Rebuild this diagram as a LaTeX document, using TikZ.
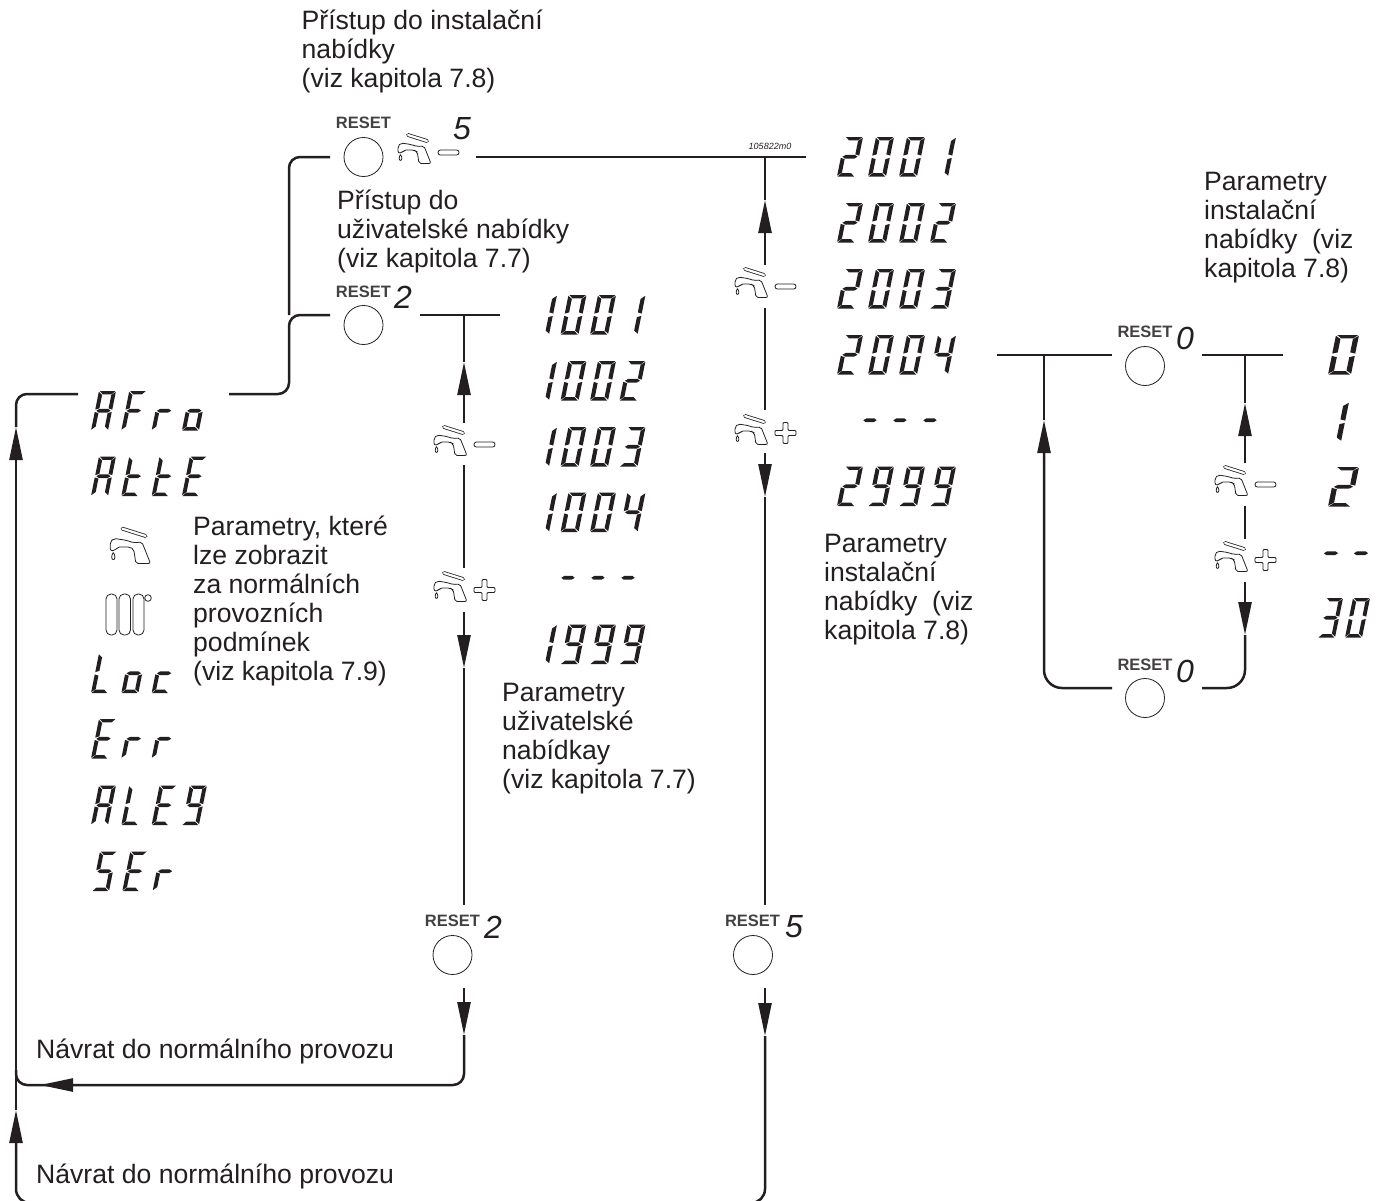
\documentclass[tikz,border=0pt]{standalone}
\usepackage{fontspec}
\setmainfont{Liberation Sans}
\usetikzlibrary{arrows.meta}

\definecolor{ink}{HTML}{231F20}

% segments of one display cell
\def\segA{a,b,c,e,f,g}
\def\segE{a,d,e,f,g}
\def\segF{a,e,f,g}
\def\segL{d,e,f}
\def\segS{a,c,d,f,g}
\def\segc{d,e,g}
\def\sego{c,d,e,g}
\def\segr{e,g}
\def\segt{d,e,f,g}
\csname @namedef\endcsname{seg0}{a,b,c,d,e,f}
\csname @namedef\endcsname{seg1}{b,c}
\csname @namedef\endcsname{seg2}{a,b,d,e,g}
\csname @namedef\endcsname{seg3}{a,b,c,d,g}
\csname @namedef\endcsname{seg4}{b,c,f,g}
\csname @namedef\endcsname{seg9}{a,b,c,d,f,g}
\csname @namedef\endcsname{seg-}{g}
\def\shapea{(.05,1)--(.97,1)--(.78,.915)--(.26,.915)}
\def\shapeb{(1,.98)--(1,.53)--(.77,.56)--(.77,.9)}
\def\shapec{(1,.47)--(1,.02)--(.77,.1)--(.77,.44)}
\def\shaped{(.03,0)--(.95,0)--(.74,.085)--(.22,.085)}
\def\shapee{(0,.47)--(0,.02)--(.23,.1)--(.23,.44)}
\def\shapef{(0,.98)--(0,.53)--(.23,.56)--(.23,.9)}
\def\shapeg{(.08,.5)--(.24,.545)--(.76,.545)--(.92,.5)--(.76,.455)--(.24,.455)}

% name, x, top, cell width, pitch, cells, text
\newcommand{\lcdrow}[7]{
  \foreach \ch [count=\idx from 0] in {#6} {
    \begin{scope}[shift={({#2+\idx*#5},{#3+39.5})},x={({(#4-8)*1pt},0pt)},y={(8pt,39.5pt)}]
      \edef\seglist{\csname seg\ch\endcsname}
      \foreach \sg in \seglist {
        \fill[ink] \csname shape\sg\endcsname -- cycle;
      }
    \end{scope}
  }
  \node[lcdtext] (#1) at (#2,{#3+20}) {#7};
}

\def\faucetpath{
  \draw[icon,double=white,double distance=2.2pt,line cap=round] (11,3) -- (30,9);
  \draw[icon,rounded corners=2pt] (1,21) -- (1,14) -- (4,11) -- (14,12.5) -- (20,14.5) -- (27,14)
    -- (34,31.5) -- (22,31.5) -- (20.3,20) -- (17,18) -- (7,18) -- (5,21) -- cycle;
  \draw[icon] (3.5,22.5) .. controls (1.7,25) and (1.9,28.4) .. (3.5,28.4) .. controls (5.2,28.4) and (5.4,25) .. (3.5,22.5);
}

\tikzset{
  icon/.style={draw=ink,line width=.8pt},
  flow/.style={draw=ink,line width=2.5pt},
  flowtip/.style={flow,-{Triangle[length=33pt,width=13pt]}},
  resetbtn/.style={circle,draw=ink,line width=.8pt,minimum size=39pt,inner sep=0pt},
  resetlbl/.style={inner sep=0pt,text=ink!85,font=\fontsize{16.5}{18}\selectfont\bfseries},
  digit/.style={inner sep=0pt,text=ink,font=\fontsize{32}{34}\selectfont\itshape},
  lbl/.style={anchor=north west,align=left,inner sep=0pt,text=ink,
    font=\fontsize{26.6}{29}\selectfont,execute at begin node=\strut},
  lcdtext/.style={anchor=west,inner sep=0pt,text opacity=0,font=\fontsize{40}{42}\selectfont\itshape},
  pics/faucet/.style={code={\faucetpath}},
  pics/tapminus/.style={code={
    \faucetpath
    \draw[icon,rounded corners=2.4pt] (41,18) rectangle (62,23);
  }},
  pics/tapplus/.style={code={
    \faucetpath
    \draw[icon,rounded corners=1pt] (41,17.5) -- (49,17.5) -- (49,9.5) -- (54,9.5) -- (54,17.5) -- (62,17.5)
      -- (62,22.5) -- (54,22.5) -- (54,30.5) -- (49,30.5) -- (49,22.5) -- (41,22.5) -- cycle;
  }},
  pics/radiator/.style={code={
    \draw[icon,rounded corners=5pt] (0,0) rectangle (11,41);
    \draw[icon,rounded corners=5pt] (13,0) rectangle (24.5,41);
    \draw[icon,rounded corners=5pt] (27,0) rectangle (38,41);
    \draw[icon] (42,4) circle (3.3);
  }}
}

\begin{document}
\begin{tikzpicture}[x=1pt,y=-1pt]
  \useasboundingbox (0,0) rectangle (1384,1200);

  % display rows
  \lcdrow{afro}{91}{391}{25}{30.3}{A,F,r,o}{AFro}
  \lcdrow{atte}{91}{456.5}{25}{30.3}{A,t,t,E}{AttE}
  \lcdrow{loc}{91}{653.5}{25}{30.3}{L,o,c}{Loc}
  \lcdrow{err}{91}{719}{25}{30.3}{E,r,r}{Err}
  \lcdrow{aleg}{91}{785.5}{25}{30.3}{A,L,E,9}{ALE9}
  \lcdrow{ser}{92}{851.5}{25}{30.3}{S,E,r}{SEr}

  \lcdrow{ua}{531}{295}{26}{29.5}{1,0,0,1}{1001}
  \lcdrow{ub}{531}{361}{26}{29.5}{1,0,0,2}{1002}
  \lcdrow{uc}{531}{427}{26}{29.5}{1,0,0,3}{1003}
  \lcdrow{ud}{531}{492.5}{26}{29.5}{1,0,0,4}{1004}
  \lcdrow{ue}{556}{558}{24}{30}{-,-,-}{---}
  \lcdrow{uf}{531}{624.5}{26}{29.5}{1,9,9,9}{1999}

  \lcdrow{ia}{837}{137}{26}{31}{2,0,0,1}{2001}
  \lcdrow{ib}{837}{203}{26}{31}{2,0,0,2}{2002}
  \lcdrow{ic}{837}{269}{26}{31}{2,0,0,3}{2003}
  \lcdrow{id}{837}{335}{26}{31}{2,0,0,4}{2004}
  \lcdrow{ie}{858}{400.5}{24}{30}{-,-,-}{---}
  \lcdrow{if}{837}{466.5}{26}{31}{2,9,9,9}{2999}

  \lcdrow{va}{1328}{335}{31}{0}{0}{0}
  \lcdrow{vb}{1319}{402}{30}{0}{1}{1}
  \lcdrow{vc}{1328}{467}{31}{0}{2}{2}
  \lcdrow{vd}{1318.5}{533.5}{25}{30}{-,-}{--}
  \lcdrow{ve}{1318}{598}{25}{27}{3,0}{30}

  % reset buttons
  \node[resetbtn] (btnI) at (363.5,157) {};
  \node[resetbtn] (btnU) at (363.5,325) {};
  \node[resetbtn] (btnUb) at (452.5,955) {};
  \node[resetbtn] (btnIb) at (753,955) {};
  \node[resetbtn] (btnP) at (1145,366) {};
  \node[resetbtn] (btnPb) at (1145,698) {};
  \node[resetlbl] (rsI) at (363.5,123) {RESET};
  \node[resetlbl] (rsU) at (363.5,292) {RESET};
  \node[resetlbl] (rsUb) at (452.5,921) {RESET};
  \node[resetlbl] (rsIb) at (752.5,921) {RESET};
  \node[resetlbl] (rsP) at (1145,332) {RESET};
  \node[resetlbl] (rsPb) at (1145,665) {RESET};
  \node[digit] (nI) at (462,129) {5};
  \node[digit] (nU) at (403,297) {2};
  \node[digit] (nUb) at (493,927) {2};
  \node[digit] (nIb) at (794,927) {5};
  \node[digit] (nP) at (1185,338) {0};
  \node[digit] (nPb) at (1185,671) {0};

  % tap icons
  \pic (tapI) at (397,132) {tapminus};
  \pic (tapUm) at (433,424) {tapminus};
  \pic (tapUp) at (433,570) {tapplus};
  \pic (tapIm) at (734,266) {tapminus};
  \pic (tapIp) at (734,413) {tapplus};
  \pic (tapPm) at (1214,464) {tapminus};
  \pic (tapPp) at (1214,540) {tapplus};
  \pic[scale=1.22] (tapN) at (109,525) {faucet};
  \pic (radN) at (106,594) {radiator};

  % labels
  \node[lbl] (accI) at (301.5,10) {Přístup do instalační\\nabídky\\(viz kapitola 7.8)};
  \node[lbl] (accU) at (337,190) {Přístup do\\uživatelské nabídky\\(viz kapitola 7.7)};
  \node[lbl] (parN) at (193,516) {Parametry, které\\lze zobrazit\\za normálních\\provozních\\podmínek\\(viz kapitola 7.9)};
  \node[lbl] (parU) at (502,683) {Parametry\\uživatelské\\nabídkay\\(viz kapitola 7.7)};
  \node[lbl] (parI) at (824,534) {Parametry\\instalační\\nabídky\ \ (viz\\kapitola 7.8)};
  \node[lbl] (parP) at (1204,172) {Parametry\\instalační\\nabídky\ \ (viz\\kapitola 7.8)};
  \node[lbl] (retU) at (36,1038) {Návrat do normálního provozu};
  \node[lbl] (retI) at (36,1163) {Návrat do normálního provozu};
  \node[inner sep=0pt,text=ink,font=\fontsize{9}{10}\selectfont\itshape] (code) at (770,146) {105822m0};

  % connector points
  \foreach \n/\x/\y in {
    aL/78/394, aR/229/394, trunkL/16/394, trunkT/16/427, trunkM/16/1110, cornerL/16/1085, cornerU/16/1070,
    busX/289/394, busI/289/157, busU/289/315, stubI/330/157, stubU/330/315,
    outI/476/157, endI/806/157, outU/420/315, endU/500/315,
    jU/464/315, uTip/464/362, uA/464/423, uB/464/465, uC/464/568, uD/464/612, uDn/464/668, uE/464/905,
    uF/464/988, uDn2/464/1035, uCorner/464/1085, retS/200/1085, retTip/40/1085,
    jI/765/157, iTip/765/200, iA/765/265, iB/765/308, iC/765/410, iD/765/453, iDn/765/497, iE/765/905,
    iF/765/988, iDn2/765/1036, iCorner/765/1203, lowL/16/1203,
    pL/997/355, jPl/1044/355, pIn/1112/355, pOut/1202/355, pEnd/1283/355,
    jP/1245/355, pTip/1245/403, pA/1245/463, pB/1245/506, pC/1245/539, pD/1245/582, pDn/1245/635,
    pCr/1245/688, pCl/1044/688, pBl/1112/688, pBr/1202/688, plTip/1044/420}
    \coordinate (\n) at (\x,\y);

  % access lines
  \draw[flow,rounded corners=11pt] (stubI) -- (busI) -- (busU);
  \draw[flow,rounded corners=11pt] (stubU) -- (busU) -- (busX) -- (aR);
  \draw[flowtip] (trunkM) -- (trunkT);
  \draw[flow,rounded corners=11pt] (trunkT) -- (trunkL) -- (aL);

  % user menu
  \draw[flow] (outU) -- (endU);
  \draw[flow] (jU) -- (uTip);
  \draw[flowtip] (uA) -- (uTip);
  \draw[flow] (uB) -- (uC);
  \draw[flowtip] (uD) -- (uDn);
  \draw[flow] (uDn) -- (uE);
  \draw[flowtip] (uF) -- (uDn2);
  \draw[flow,rounded corners=11pt] (uDn2) -- (uCorner) -- (cornerL) -- (cornerU);
  \draw[flowtip] (retS) -- (retTip);

  % installer menu
  \draw[flow] (outI) -- (endI);
  \draw[flow] (jI) -- (iTip);
  \draw[flowtip] (iA) -- (iTip);
  \draw[flow] (iB) -- (iC);
  \draw[flowtip] (iD) -- (iDn);
  \draw[flow] (iDn) -- (iE);
  \draw[flowtip] (iF) -- (iDn2);
  \draw[flowtip,rounded corners=14pt] (iDn2) -- (iCorner) -- (lowL) -- (trunkM);

  % parameter loop
  \draw[flow] (pL) -- (pIn);
  \draw[flow] (pOut) -- (pEnd);
  \draw[flow] (jP) -- (pTip);
  \draw[flowtip] (pA) -- (pTip);
  \draw[flow] (pB) -- (pC);
  \draw[flowtip] (pD) -- (pDn);
  \draw[flow,rounded corners=18pt] (pDn) -- (pCr) -- (pBr);
  \draw[flowtip,rounded corners=18pt] (pBl) -- (pCl) -- (plTip);
  \draw[flow] (jPl) -- (plTip);
\end{tikzpicture}
\end{document}
